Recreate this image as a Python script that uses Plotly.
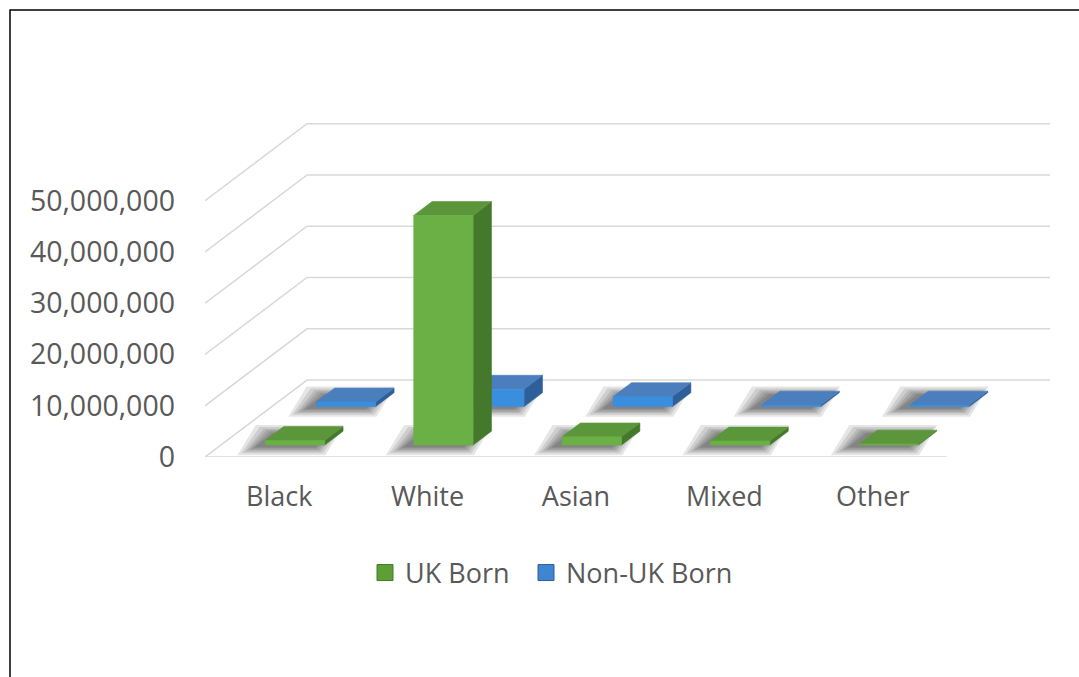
import plotly.graph_objects as go

# ---- data -------------------------------------------------------------
categories = ["Black", "White", "Asian", "Mixed", "Other"]
uk_born = [0.9e6, 44.8e6, 1.6e6, 0.8e6, 0.2e6]
non_uk_born = [0.9e6, 3.4e6, 1.95e6, 0.3e6, 0.3e6]
y_ticks = [0, 10e6, 20e6, 30e6, 40e6, 50e6]
y_tick_labels = [f"{int(v):,}" for v in y_ticks]
series_names = ["UK Born", "Non-UK Born"]

# ---- page geometry (pixels) ------------------------------------------
W, H = 1079, 677
PLOT_L, PLOT_R, PLOT_T, PLOT_B = 205, 1050, 110, 457
SLOT_PX = 148.4              # width of one category on the front plane
PX_PER_UNIT = 5.126e-6       # pixels per person on the value axis
DEPTH_PX = (102, -77)        # oblique offset of the back wall

x_max = (PLOT_R - PLOT_L) / SLOT_PX
y_max = (PLOT_B - PLOT_T) / PX_PER_UNIT
DX = DEPTH_PX[0] / SLOT_PX          # full depth, in category units
DY = -DEPTH_PX[1] / PX_PER_UNIT     # full depth, in value units

HALF_W = 0.2                         # half bar width (category units)
ROWS = [(0.155, 0.335), (0.655, 0.835)]   # depth span of each series row

GREEN = dict(front="#6AB045", top="#5B973A", side="#44782B", key="#5E9E37")
BLUE = dict(front="#3B8DDE", top="#4A7EBC", side="#2F5F99", key="#3E85D2")
TEXT = "#595959"
FONT = "Open Sans"

fig = go.Figure()


def poly(xs, ys, color, width=0.6, line=None):
    fig.add_trace(go.Scatter(
        x=list(xs) + [xs[0]], y=list(ys) + [ys[0]],
        mode="lines", fill="toself", fillcolor=color,
        line=dict(color=line or color, width=width),
        hoverinfo="skip", showlegend=False))


# ---- oblique grid ------------------------------------------------------
gx, gy = [], []
for v in y_ticks:
    gx += [0, DX, x_max, None]
    gy += [v, v + DY, v + DY, None]
gx += [0, len(categories), None]
gy += [0, 0, None]
fig.add_trace(go.Scatter(x=gx, y=gy, mode="lines",
                         line=dict(color="#D9D9D9", width=1.6),
                         hoverinfo="skip", showlegend=False))


def corners(i, value, row):
    d0, d1 = ROWS[row]
    c = i + 0.5
    xl0, xr0 = c - HALF_W + d0 * DX, c + HALF_W + d0 * DX
    xl1, xr1 = c - HALF_W + d1 * DX, c + HALF_W + d1 * DX
    yb0, yb1 = d0 * DY, d1 * DY
    return xl0, xr0, xl1, xr1, yb0, yb1, yb0 + value, yb1 + value


def shadow(i, row):
    # soft floor shadow, built from stacked translucent footprints
    xl0, xr0, xl1, xr1, yb0, yb1, _, _ = corners(i, 0, row)
    sx = -10 / SLOT_PX
    sy = -2 / PX_PER_UNIT
    for grow in (18, 14, 10, 7, 4, 1):
        ex = grow / SLOT_PX
        ey = grow * 0.45 / PX_PER_UNIT
        xs = [xl0 - ex + sx, xr0 + ex * 0.6 + sx, xr1 + ex * 0.6 + sx, xl1 - ex + sx]
        ys = [yb0 - ey + sy, yb0 - ey + sy, yb1 + ey + sy, yb1 + ey + sy]
        poly(xs, ys, "rgba(0,0,0,0.1)", width=0)


def bar(i, value, row, col):
    xl0, xr0, xl1, xr1, yb0, yb1, yt0, yt1 = corners(i, value, row)
    # right side face
    poly([xr0, xr1, xr1, xr0], [yb0, yb1, yt1, yt0], col["side"])
    # top face
    poly([xl0, xr0, xr1, xl1], [yt0, yt0, yt1, yt1], col["top"])
    # front face
    poly([xl0, xr0, xr0, xl0], [yb0, yb0, yt0, yt0], col["front"])


# back row first, then the front row
for row, values, col in ((1, non_uk_born, BLUE), (0, uk_born, GREEN)):
    for i in range(len(categories)):
        shadow(i, row)
    for i, v in enumerate(values):
        bar(i, v, row, col)

# ---- legend keys (one legend box per series) ----------------------------
for name, col, leg in zip(series_names, (GREEN, BLUE), ("legend", "legend2")):
    fig.add_trace(go.Scatter(
        x=[None], y=[None], mode="markers", name=name, legend=leg,
        marker=dict(symbol="square", size=16, color=col["key"],
                    line=dict(color=col["side"], width=1))))

plot_w = PLOT_R - PLOT_L
plot_h = PLOT_B - PLOT_T


def px_x(p):
    return (p - PLOT_L) / plot_w


def px_y(p):
    return (PLOT_B - p) / plot_h


legend_style = dict(orientation="h", xanchor="left", yanchor="middle",
                    y=px_y(573), font=dict(family=FONT, size=27, color=TEXT),
                    bgcolor="rgba(0,0,0,0)", itemclick=False,
                    itemdoubleclick=False)

fig.update_layout(
    width=W, height=H,
    margin=dict(l=PLOT_L, r=W - PLOT_R, t=PLOT_T, b=H - PLOT_B, autoexpand=False),
    paper_bgcolor="white", plot_bgcolor="white",
    font=dict(family=FONT, size=27, color=TEXT),
    xaxis=dict(range=[0, x_max], showgrid=False, zeroline=False, showline=False,
               tickvals=[i + 0.5 for i in range(len(categories))],
               ticktext=categories, ticks="", ticklabelstandoff=21,
               tickfont=dict(family=FONT, size=27, color=TEXT), fixedrange=True),
    yaxis=dict(range=[0, y_max], showgrid=False, zeroline=False, showline=False,
               tickvals=y_ticks, ticktext=y_tick_labels, ticks="",
               ticklabelstandoff=29,
               tickfont=dict(family=FONT, size=28.5, color=TEXT), fixedrange=True),
    showlegend=True,
    legend=dict(x=px_x(365), **legend_style),
    legend2=dict(x=px_x(526), **legend_style),
    shapes=[dict(type="rect", xref="paper", yref="paper",
                 x0=px_x(10), x1=px_x(W + 20), y0=px_y(10), y1=px_y(H + 20),
                 line=dict(color="black", width=1.5), fillcolor="rgba(0,0,0,0)",
                 layer="above")],
)

fig.write_html("out.html")
